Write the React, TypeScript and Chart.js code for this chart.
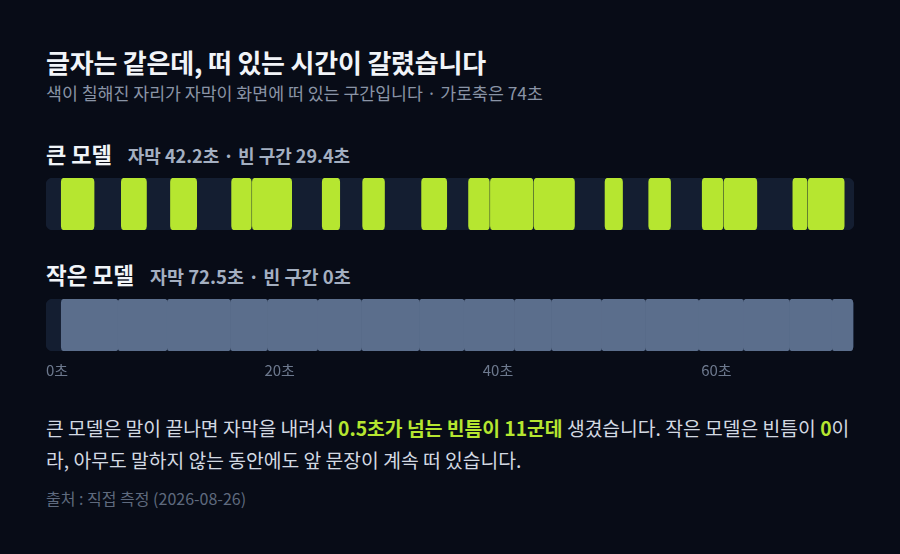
import { useEffect, useRef } from 'react';
import { Chart, registerables } from 'chart.js';

Chart.register(...registerables);

// 가로축 (초)
const AXIS_MAX = 74;
const TICK_STEP = 20;

// 큰 모델: 자막이 떠 있는 구간 (시작/끝, 초)
const bigStarts = [1.4, 6.9, 11.4, 17.0, 18.9, 25.3, 29.0, 34.4, 38.7, 40.7, 44.7, 51.2, 55.2, 60.1, 62.1, 68.4, 69.8];
const bigEnds = [4.4, 9.2, 13.8, 18.8, 22.5, 26.9, 31.0, 36.7, 40.6, 44.6, 48.4, 52.8, 57.2, 62.0, 65.1, 69.7, 73.1];

// 작은 모델: 자막이 끊김 없이 이어짐
const smallStarts = [1.4, 6.6, 11.1, 16.9, 20.3, 24.9, 28.9, 34.2, 38.3, 42.9, 46.3, 50.9, 54.9, 59.8, 63.9, 68.1, 72.0];
const smallEnds = [6.6, 11.1, 16.9, 20.3, 24.9, 28.9, 34.2, 38.3, 42.9, 46.3, 50.9, 54.9, 59.8, 63.9, 68.1, 72.0, 73.9];

const BG = '#080c17';
const TRACK_BG = '#141e31';
const GREEN = '#b6e630';
const SLATE = '#5b6e8c';
const FONT = '"Noto Sans CJK KR", "Noto Sans", sans-serif';

const TRACK_H = 52;
const AXIS_H = 28;

type TrackProps = {
  starts: number[];
  ends: number[];
  color: string;
  showAxis: boolean;
};

function Track({ starts, ends, color, showAxis }: TrackProps) {
  const canvasRef = useRef<HTMLCanvasElement>(null);
  const width = 808;
  const height = showAxis ? TRACK_H + AXIS_H : TRACK_H;

  useEffect(() => {
    if (!canvasRef.current) return;
    const chart = new Chart(canvasRef.current, {
      type: 'bar',
      data: {
        labels: ['track'],
        datasets: [
          {
            data: starts.map((s, i) => ({ x: [s, ends[i]], y: 'track' })) as any,
            backgroundColor: color,
            borderRadius: 4,
            borderSkipped: false,
            barPercentage: 1,
            categoryPercentage: 1,
            grouped: false,
            order: 1,
          },
          {
            data: [{ x: [0, AXIS_MAX], y: 'track' }] as any,
            backgroundColor: TRACK_BG,
            borderRadius: 7,
            borderSkipped: false,
            barPercentage: 1,
            categoryPercentage: 1,
            grouped: false,
            order: 2,
          },
        ],
      },
      options: {
        indexAxis: 'y',
        animation: false,
        responsive: false,
        maintainAspectRatio: false,
        layout: { padding: 0 },
        plugins: {
          legend: { display: false },
          tooltip: { enabled: false },
        },
        scales: {
          x: {
            type: 'linear',
            min: 0,
            max: AXIS_MAX,
            display: showAxis,
            grid: { display: false, drawTicks: true, tickLength: 10 },
            border: { display: false },
            ticks: {
              stepSize: TICK_STEP,
              includeBounds: false,
              align: 'start',
              padding: 0,
              color: '#6d798e',
              font: { family: FONT, size: 15 },
              callback: (v) => `${v}초`,
            },
            afterFit: (scale: any) => {
              if (!showAxis) return;
              scale.height = AXIS_H;
              scale.paddingLeft = 0;
              scale.paddingRight = 0;
            },
          },
          y: { type: 'category', display: false },
        },
      },
    });
    return () => chart.destroy();
  }, []);

  return <canvas ref={canvasRef} width={width} height={height} style={{ width, height, display: 'block' }} />;
}

export default function App() {
  useEffect(() => {
    document.body.style.margin = '0';
    document.body.style.background = BG;
  }, []);

  const abs = (top: number, extra: React.CSSProperties = {}): React.CSSProperties => ({
    position: 'absolute',
    left: 46,
    top,
    whiteSpace: 'nowrap',
    ...extra,
  });

  return (
    <div style={{ position: 'relative', width: 900, height: 554, background: BG, fontFamily: FONT, overflow: 'hidden' }}>
      <div style={abs(46, { fontSize: 26, fontWeight: 700, color: '#f1f4f8', lineHeight: '31px', letterSpacing: -0.2 })}>
        글자는 같은데, 떠 있는 시간이 갈렸습니다
      </div>
      <div style={abs(82, { fontSize: 17.3, color: '#8a94a6', lineHeight: '22px' })}>
        색이 칠해진 자리가 자막이 화면에 떠 있는 구간입니다 · 가로축은 74초
      </div>

      <div style={abs(139, { lineHeight: '28px' })}>
        <span style={{ fontSize: 22, fontWeight: 700, color: '#f1f4f8' }}>큰 모델</span>
        <span style={{ fontSize: 18, fontWeight: 700, color: '#a4afc1', marginLeft: 16 }}>자막 42.2초 · 빈 구간 29.4초</span>
      </div>
      <div style={{ position: 'absolute', left: 46, top: 178 }}>
        <Track starts={bigStarts} ends={bigEnds} color={GREEN} showAxis={false} />
      </div>

      <div style={abs(260, { lineHeight: '28px' })}>
        <span style={{ fontSize: 22.5, fontWeight: 700, color: '#f1f4f8' }}>작은 모델</span>
        <span style={{ fontSize: 18.5, fontWeight: 700, color: '#a4afc1', marginLeft: 16 }}>자막 72.5초 · 빈 구간 0초</span>
      </div>
      <div style={{ position: 'absolute', left: 46, top: 299 }}>
        <Track starts={smallStarts} ends={smallEnds} color={SLATE} showAxis={true} />
      </div>

      <div style={{ position: 'absolute', left: 46, top: 412, width: 810, fontSize: 19.3, lineHeight: '32px', color: '#d3d9e2' }}>
        큰 모델은 말이 끝나면 자막을 내려서{' '}
        <b style={{ color: GREEN }}>0.5초가 넘는 빈틈이 11군데</b> 생겼습니다. 작은 모델은 빈틈이{' '}
        <b style={{ color: GREEN }}>0</b>이라, 아무도 말하지 않는 동안에도 앞 문장이 계속 떠 있습니다.
      </div>
      <div style={abs(488, { fontSize: 16, color: '#5f6a7e', lineHeight: '20px' })}>
        출처 : 직접 측정 (2026-08-26)
      </div>
    </div>
  );
}
